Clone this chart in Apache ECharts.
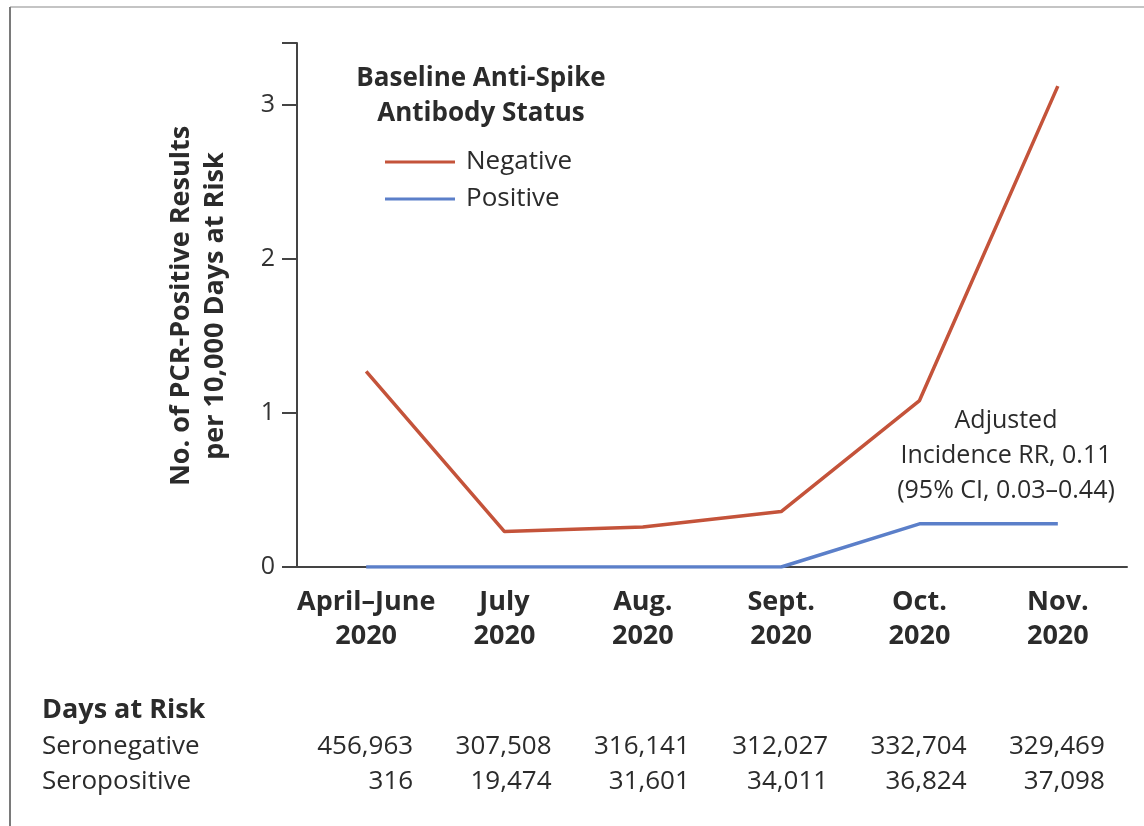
<!DOCTYPE html>
<html>
<head>
<meta charset="utf-8">
<script src="https://cdn.jsdelivr.net/npm/echarts@6/dist/echarts.min.js"></script>
<style>
html,body{margin:0;padding:0;background:#fff;}
#c{width:1144px;height:826px;}
</style>
</head>
<body>
<div id="c"></div>
<script>
var categories = ['April\u2013June\n2020', 'July\n2020', 'Aug.\n2020', 'Sept.\n2020', 'Oct.\n2020', 'Nov.\n2020'];
var negativeRate = [1.27, 0.23, 0.26, 0.36, 1.08, 3.12];
var positiveRate = [0, 0, 0, 0, 0.28, 0.28];
var yTicks = [0, 1, 2, 3];
var seronegativeDays = ['456,963', '307,508', '316,141', '312,027', '332,704', '329,469'];
var seropositiveDays = ['316', '19,474', '31,601', '34,011', '36,824', '37,098'];

var FONT = '"Open Sans", Lato, sans-serif';
var RED = '#c4533a';
var BLUE = '#5b7fc9';
var AXIS = '#444';
var TXT = '#2b2b2b';

var chart = echarts.init(document.getElementById('c'), null, {renderer: 'canvas'});

var option = {
  backgroundColor: '#fff',
  animation: false,
  textStyle: {fontFamily: FONT},
  grid: {left: 297, right: 17, top: 43, bottom: 259, containLabel: false},
  legend: {
    orient: 'vertical',
    left: 385,
    top: 149,
    padding: 0,
    itemWidth: 70,
    itemHeight: 12,
    itemGap: 11,
    icon: 'path://M0,0 L70,0 L70,3 L0,3 Z',
    textStyle: {fontFamily: FONT, fontSize: 26, color: TXT, padding: [0,0,0,6]},
    data: ['Negative', 'Positive']
  },
  xAxis: {
    type: 'category',
    data: categories,
    boundaryGap: true,
    axisLine: {lineStyle: {color: AXIS, width: 2}},
    axisTick: {alignWithLabel: true, length: 11, lineStyle: {color: AXIS, width: 2}},
    axisLabel: {fontFamily: FONT, fontWeight: 'bold', fontSize: 27, color: TXT, lineHeight: 34, margin: 18, interval: 0}
  },
  yAxis: {
    type: 'value',
    min: 0,
    max: 3.4,
    interval: 1,
    splitLine: {show: false},
    axisLine: {show: true, lineStyle: {color: AXIS, width: 2}},
    axisTick: {show: true, length: 15, lineStyle: {color: AXIS, width: 2}},
    axisLabel: {
      fontFamily: FONT, fontSize: 25, color: '#333', margin: 22,
      formatter: function (v) { return yTicks.indexOf(v) >= 0 ? String(v) : ''; }
    }
  },
  series: [
    {name: 'Negative', type: 'line', data: negativeRate, symbol: 'none', z: 3,
     lineStyle: {color: RED, width: 3.5}, itemStyle: {color: RED}},
    {name: 'Positive', type: 'line', data: positiveRate, symbol: 'none', z: 4,
     lineStyle: {color: BLUE, width: 3.5}, itemStyle: {color: BLUE}}
  ]
};
chart.setOption(option);

var g = [];
// frame
g.push({type: 'line', shape: {x1: 10, y1: 7, x2: 1144, y2: 7}, style: {stroke: '#c4c4c4', lineWidth: 2}});
g.push({type: 'line', shape: {x1: 10, y1: 7, x2: 10, y2: 826}, style: {stroke: '#7a7a7a', lineWidth: 2}});
// y-axis title
g.push({type: 'text', x: 198, y: 306, rotation: Math.PI / 2,
  style: {text: 'No. of PCR-Positive Results\nper 10,000 Days at Risk', font: 'bold 27px ' + FONT,
    fill: TXT, textAlign: 'center', textVerticalAlign: 'middle', lineHeight: 34}});
// legend title
g.push({type: 'text', x: 481, y: 96,
  style: {text: 'Baseline Anti-Spike\nAntibody Status', font: 'bold 26px ' + FONT,
    fill: TXT, textAlign: 'center', textVerticalAlign: 'middle', lineHeight: 35}});
// annotation
g.push({type: 'text', x: 1006, y: 456,
  style: {text: 'Adjusted\nIncidence RR, 0.11\n(95% CI, 0.03\u20130.44)', font: '25px ' + FONT,
    fill: TXT, textAlign: 'center', textVerticalAlign: 'middle', lineHeight: 35}});
// table
g.push({type: 'text', x: 42, y: 710,
  style: {text: 'Days at Risk', font: 'bold 27px ' + FONT, fill: TXT, textAlign: 'left', textVerticalAlign: 'middle'}});
g.push({type: 'text', x: 42, y: 747,
  style: {text: 'Seronegative', font: '26px ' + FONT, fill: TXT, textAlign: 'left', textVerticalAlign: 'middle'}});
g.push({type: 'text', x: 42, y: 782,
  style: {text: 'Seropositive', font: '26px ' + FONT, fill: TXT, textAlign: 'left', textVerticalAlign: 'middle'}});
for (var i = 0; i < categories.length; i++) {
  var px = chart.convertToPixel({xAxisIndex: 0}, i) + 47;
  g.push({type: 'text', x: px, y: 747,
    style: {text: seronegativeDays[i], font: '26px ' + FONT, fill: TXT, textAlign: 'right', textVerticalAlign: 'middle'}});
  g.push({type: 'text', x: px, y: 782,
    style: {text: seropositiveDays[i], font: '26px ' + FONT, fill: TXT, textAlign: 'right', textVerticalAlign: 'middle'}});
}
chart.setOption({graphic: {elements: g}});
</script>
</body>
</html>
